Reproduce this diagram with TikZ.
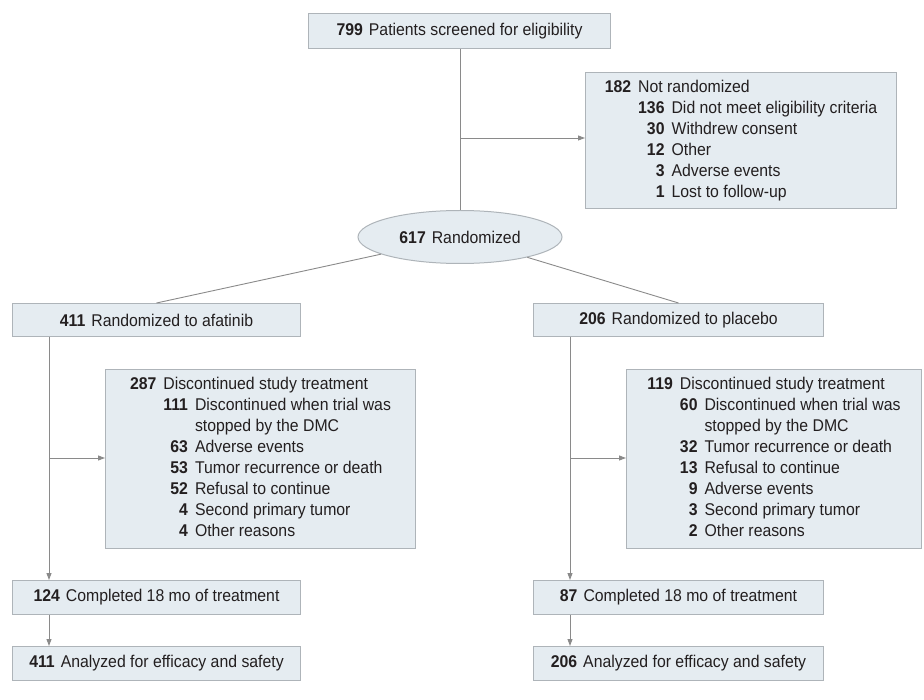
\documentclass[tikz,border=0pt]{standalone}
\usepackage{fontspec}
\setmainfont[FakeStretch=0.93]{Liberation Sans}
\usetikzlibrary{arrows.meta,shapes.geometric}
\definecolor{boxfill}{HTML}{E5ECF1}
\definecolor{boxline}{HTML}{AEB4B9}
\definecolor{flowline}{HTML}{8A8A8A}
\definecolor{ink}{HTML}{231F20}
\tikzset{
	box/.style={draw=boxline, fill=boxfill, line width=1pt, text=ink, inner sep=0pt, anchor=north west},
	flow/.style={draw=flowline, line width=0.9pt},
	arr/.style={flow, -{Triangle[length=7pt, width=5pt]}}
}
\newcommand{\cnt}[1]{\textbf{#1}\hspace{6pt}}

\begin{document}
\begin{tikzpicture}[x=1pt, y=-1pt, font=\fontsize{17}{21}\selectfont]
			%%%%% START %%%%%
			\useasboundingbox (0, 0) rectangle (924, 700);
			
			\node[box, minimum width=302, minimum height=35] (screen) at (308, 13) {\cnt{799}Patients screened for eligibility};
			
			\node[box, minimum width=311, minimum height=136] (excl) at (585, 72) {%
				\begin{tabular}{@{}r@{\hspace{7pt}}r@{\hspace{7pt}}l@{}}
					\textbf{182} & \multicolumn{2}{@{}l@{}}{Not randomized}\\
					& \textbf{136} & Did not meet eligibility criteria\\
					& \textbf{30} & Withdrew consent\\
					& \textbf{12} & Other\\
					& \textbf{3} & Adverse events\\
					& \textbf{1} & Lost to follow-up
				\end{tabular}};
			
			\node[box, ellipse, anchor=center, minimum width=204, minimum height=53] (rand) at (460, 237) {\cnt{617}Randomized};
			
			\node[box, minimum width=288, minimum height=33] (afat) at (12, 303) {\cnt{411}Randomized to afatinib};
			\node[box, minimum width=290, minimum height=33] (plac) at (533, 303) {\cnt{206}Randomized to placebo};
			
			\node[box, minimum width=310, minimum height=179] (discA) at (105, 369) {%
				\begin{tabular}{@{}r@{\hspace{7pt}}r@{\hspace{7pt}}l@{}}
					\textbf{287} & \multicolumn{2}{@{}l@{}}{Discontinued study treatment}\\
					& \textbf{111} & Discontinued when trial was\\
					& & stopped by the DMC\\
					& \textbf{63} & Adverse events\\
					& \textbf{53} & Tumor recurrence or death\\
					& \textbf{52} & Refusal to continue\\
					& \textbf{4} & Second primary tumor\\
					& \textbf{4} & Other reasons
				\end{tabular}};
			\node[box, minimum width=295, minimum height=179] (discP) at (626, 369) {%
				\begin{tabular}{@{}r@{\hspace{7pt}}r@{\hspace{7pt}}l@{}}
					\textbf{119} & \multicolumn{2}{@{}l@{}}{Discontinued study treatment}\\
					& \textbf{60} & Discontinued when trial was\\
					& & stopped by the DMC\\
					& \textbf{32} & Tumor recurrence or death\\
					& \textbf{13} & Refusal to continue\\
					& \textbf{9} & Adverse events\\
					& \textbf{3} & Second primary tumor\\
					& \textbf{2} & Other reasons
				\end{tabular}};
			
			\node[box, minimum width=288, minimum height=34] (compA) at (12, 580) {\cnt{124}Completed 18 mo of treatment};
			\node[box, minimum width=290, minimum height=34] (compP) at (533, 580) {\cnt{87}Completed 18 mo of treatment};
			
			\node[box, minimum width=288, minimum height=34] (anaA) at (12, 646) {\cnt{411}Analyzed for efficacy and safety};
			\node[box, minimum width=290, minimum height=34] (anaP) at (533, 646) {\cnt{206}Analyzed for efficacy and safety};
			
			\coordinate (cut) at (460, 138);
			\coordinate (lstem) at (49, 458);
			\coordinate (rstem) at (570, 458);
			
			\draw[flow] (screen.south -| rand) -- (rand.north);
			\draw[arr] (cut) -- (cut -| excl.west);
			
			\draw[flow] (rand) -- (afat.north);
			\draw[flow] (rand) -- (plac.north);
			
			\draw[arr] (afat.south -| lstem) -- (compA.north -| lstem);
			\draw[arr] (lstem) -- (lstem -| discA.west);
			\draw[arr] (compA.south -| lstem) -- (anaA.north -| lstem);
			
			\draw[arr] (plac.south -| rstem) -- (compP.north -| rstem);
			\draw[arr] (rstem) -- (rstem -| discP.west);
			\draw[arr] (compP.south -| rstem) -- (anaP.north -| rstem);
			
			%%%%% END %%%%%
\end{tikzpicture}
\end{document}
